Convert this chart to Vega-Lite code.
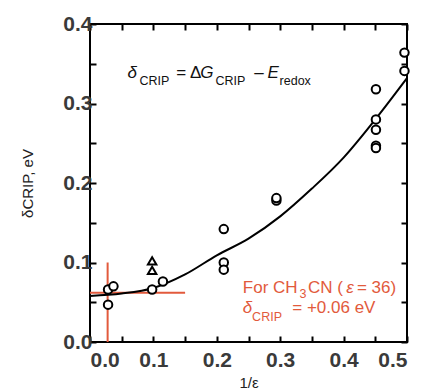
{
  "$schema": "https://vega.github.io/schema/vega-lite/v6.json",
  "width": 317,
  "height": 318,
  "autosize": "none",
  "padding": {"left": 90, "top": 24, "right": 14, "bottom": 47},
  "background": "white",
  "config": {
    "view": {"stroke": "black", "strokeWidth": 2},
    "font": "Liberation Sans",
    "axis": {"grid": false, "domain": false, "tickColor": "black", "tickWidth": 2, "tickSize": -6, "labelFont": "Liberation Sans", "labelFontSize": 21, "labelFontWeight": "bold", "labelColor": "#3a3a3a", "titleFont": "Liberation Sans", "titleFontSize": 15, "titleFontWeight": "normal", "titleColor": "#222"}
  },
  "datasets": {
    "points": [
      {"x": 0.0285, "y": 0.066, "marker": "circle"},
      {"x": 0.0285, "y": 0.047, "marker": "circle"},
      {"x": 0.037, "y": 0.070, "marker": "circle"},
      {"x": 0.098, "y": 0.066, "marker": "circle"},
      {"x": 0.115, "y": 0.076, "marker": "circle"},
      {"x": 0.098, "y": 0.102, "marker": "triangle"},
      {"x": 0.098, "y": 0.090, "marker": "triangle"},
      {"x": 0.211, "y": 0.142, "marker": "circle"},
      {"x": 0.211, "y": 0.100, "marker": "circle"},
      {"x": 0.211, "y": 0.091, "marker": "circle"},
      {"x": 0.294, "y": 0.178, "marker": "circle"},
      {"x": 0.294, "y": 0.181, "marker": "circle"},
      {"x": 0.451, "y": 0.318, "marker": "circle"},
      {"x": 0.451, "y": 0.280, "marker": "circle"},
      {"x": 0.451, "y": 0.267, "marker": "circle"},
      {"x": 0.451, "y": 0.247, "marker": "circle"},
      {"x": 0.451, "y": 0.244, "marker": "circle"},
      {"x": 0.496, "y": 0.364, "marker": "circle"},
      {"x": 0.496, "y": 0.341, "marker": "circle"}
    ],
    "curve": [
      {"x": 0.0, "y": 0.058},
      {"x": 0.05, "y": 0.061},
      {"x": 0.1, "y": 0.068},
      {"x": 0.15, "y": 0.085},
      {"x": 0.2, "y": 0.109},
      {"x": 0.25, "y": 0.130},
      {"x": 0.3, "y": 0.158},
      {"x": 0.35, "y": 0.193},
      {"x": 0.4, "y": 0.232},
      {"x": 0.45, "y": 0.280},
      {"x": 0.5, "y": 0.332}
    ],
    "guides": [
      {"x": 0.0278, "x2": 0.0278, "y": 0.0, "y2": 0.1},
      {"x": 0.0, "x2": 0.15, "y": 0.062, "y2": 0.062}
    ],
    "labels": [
      {"x": 0.059, "y": 0.332, "text": "δ", "group": "fi"},
      {"x": 0.174, "y": 0.332, "text": "G", "group": "fi"},
      {"x": 0.280, "y": 0.332, "text": "E", "group": "fi"},
      {"x": 0.136, "y": 0.332, "text": "= Δ", "group": "fn"},
      {"x": 0.259, "y": 0.332, "text": "–", "group": "fn"},
      {"x": 0.078, "y": 0.323, "text": "CRIP", "group": "fs"},
      {"x": 0.198, "y": 0.323, "text": "CRIP", "group": "fs"},
      {"x": 0.299, "y": 0.323, "text": "redox", "group": "fs"},
      {"x": 0.241, "y": 0.0613, "text": "For CH", "group": "rn"},
      {"x": 0.344, "y": 0.0613, "text": "CN (", "group": "rn"},
      {"x": 0.421, "y": 0.0613, "text": "= 36)", "group": "rn"},
      {"x": 0.319, "y": 0.0361, "text": "= +0.06 eV", "group": "rn"},
      {"x": 0.404, "y": 0.0613, "text": "ε", "group": "ri"},
      {"x": 0.241, "y": 0.0361, "text": "δ", "group": "ri"},
      {"x": 0.3305, "y": 0.0553, "text": "3", "group": "rs"},
      {"x": 0.2557, "y": 0.0268, "text": "CRIP", "group": "rs"}
    ]
  },
  "layer": [
    {
      "data": {"name": "guides"},
      "mark": {"type": "rule", "color": "#e25a3c", "strokeWidth": 2},
      "encoding": {
        "x": {"field": "x", "type": "quantitative", "scale": {"domain": [0, 0.5], "nice": false},
          "axis": {"orient": "top", "labels": false, "title": null, "values": [0, 0.05, 0.1, 0.15, 0.2, 0.25, 0.3, 0.35, 0.4, 0.45, 0.5]}},
        "x2": {"field": "x2"},
        "y": {"field": "y", "type": "quantitative", "scale": {"domain": [0, 0.4], "nice": false},
          "axis": {"orient": "right", "labels": false, "title": null, "values": [0, 0.05, 0.1, 0.15, 0.2, 0.25, 0.3, 0.35, 0.4]}},
        "y2": {"field": "y2"}
      }
    },
    {
      "data": {"name": "curve"},
      "mark": {"type": "line", "color": "black", "strokeWidth": 2, "interpolate": "monotone"},
      "encoding": {
        "x": {"field": "x", "type": "quantitative", "scale": {"domain": [0, 0.5], "nice": false},
          "axis": {"orient": "bottom", "title": "1/ε", "titlePadding": 5, "labelPadding": 13, "values": [0, 0.05, 0.1, 0.15, 0.2, 0.25, 0.3, 0.35, 0.4, 0.45, 0.5],
            "labelExpr": "round(datum.value*20)%2==0 ? format(datum.value,'.1f') : ''"}},
        "y": {"field": "y", "type": "quantitative", "scale": {"domain": [0, 0.4], "nice": false},
          "axis": {"orient": "left", "title": "δCRIP, eV", "titlePadding": 27, "labelPadding": 4, "values": [0, 0.05, 0.1, 0.15, 0.2, 0.25, 0.3, 0.35, 0.4],
            "labelExpr": "round(datum.value*20)%2==0 ? format(datum.value,'.1f') : ''"}}
      }
    },
    {
      "data": {"name": "points"},
      "mark": {"type": "point", "filled": false, "fill": "white", "fillOpacity": 1, "stroke": "black", "strokeWidth": 2, "size": 72, "opacity": 1},
      "encoding": {
        "x": {"field": "x", "type": "quantitative", "axis": null},
        "y": {"field": "y", "type": "quantitative", "axis": null},
        "shape": {"field": "marker", "type": "nominal", "scale": {"domain": ["circle", "triangle"], "range": ["circle", "triangle-up"]}, "legend": null}
      }
    },
    {
      "data": {"name": "labels"},
      "transform": [{"filter": "datum.group == 'fi'"}],
      "mark": {"type": "text", "align": "left", "baseline": "alphabetic", "fontSize": 17, "fontStyle": "italic", "color": "#111"},
      "encoding": {"x": {"field": "x", "type": "quantitative", "axis": null}, "y": {"field": "y", "type": "quantitative", "axis": null}, "text": {"field": "text"}}
    },
    {
      "data": {"name": "labels"},
      "transform": [{"filter": "datum.group == 'fn'"}],
      "mark": {"type": "text", "align": "left", "baseline": "alphabetic", "fontSize": 17, "color": "#111"},
      "encoding": {"x": {"field": "x", "type": "quantitative", "axis": null}, "y": {"field": "y", "type": "quantitative", "axis": null}, "text": {"field": "text"}}
    },
    {
      "data": {"name": "labels"},
      "transform": [{"filter": "datum.group == 'fs'"}],
      "mark": {"type": "text", "align": "left", "baseline": "alphabetic", "fontSize": 12.5, "color": "#111"},
      "encoding": {"x": {"field": "x", "type": "quantitative", "axis": null}, "y": {"field": "y", "type": "quantitative", "axis": null}, "text": {"field": "text"}}
    },
    {
      "data": {"name": "labels"},
      "transform": [{"filter": "datum.group == 'rn'"}],
      "mark": {"type": "text", "align": "left", "baseline": "alphabetic", "fontSize": 17, "color": "#e25a3c"},
      "encoding": {"x": {"field": "x", "type": "quantitative", "axis": null}, "y": {"field": "y", "type": "quantitative", "axis": null}, "text": {"field": "text"}}
    },
    {
      "data": {"name": "labels"},
      "transform": [{"filter": "datum.group == 'ri'"}],
      "mark": {"type": "text", "align": "left", "baseline": "alphabetic", "fontSize": 17, "fontStyle": "italic", "color": "#e25a3c"},
      "encoding": {"x": {"field": "x", "type": "quantitative", "axis": null}, "y": {"field": "y", "type": "quantitative", "axis": null}, "text": {"field": "text"}}
    },
    {
      "data": {"name": "labels"},
      "transform": [{"filter": "datum.group == 'rs'"}],
      "mark": {"type": "text", "align": "left", "baseline": "alphabetic", "fontSize": 12.5, "color": "#e25a3c"},
      "encoding": {"x": {"field": "x", "type": "quantitative", "axis": null}, "y": {"field": "y", "type": "quantitative", "axis": null}, "text": {"field": "text"}}
    }
  ],
  "resolve": {"axis": {"x": "independent", "y": "independent"}}
}
